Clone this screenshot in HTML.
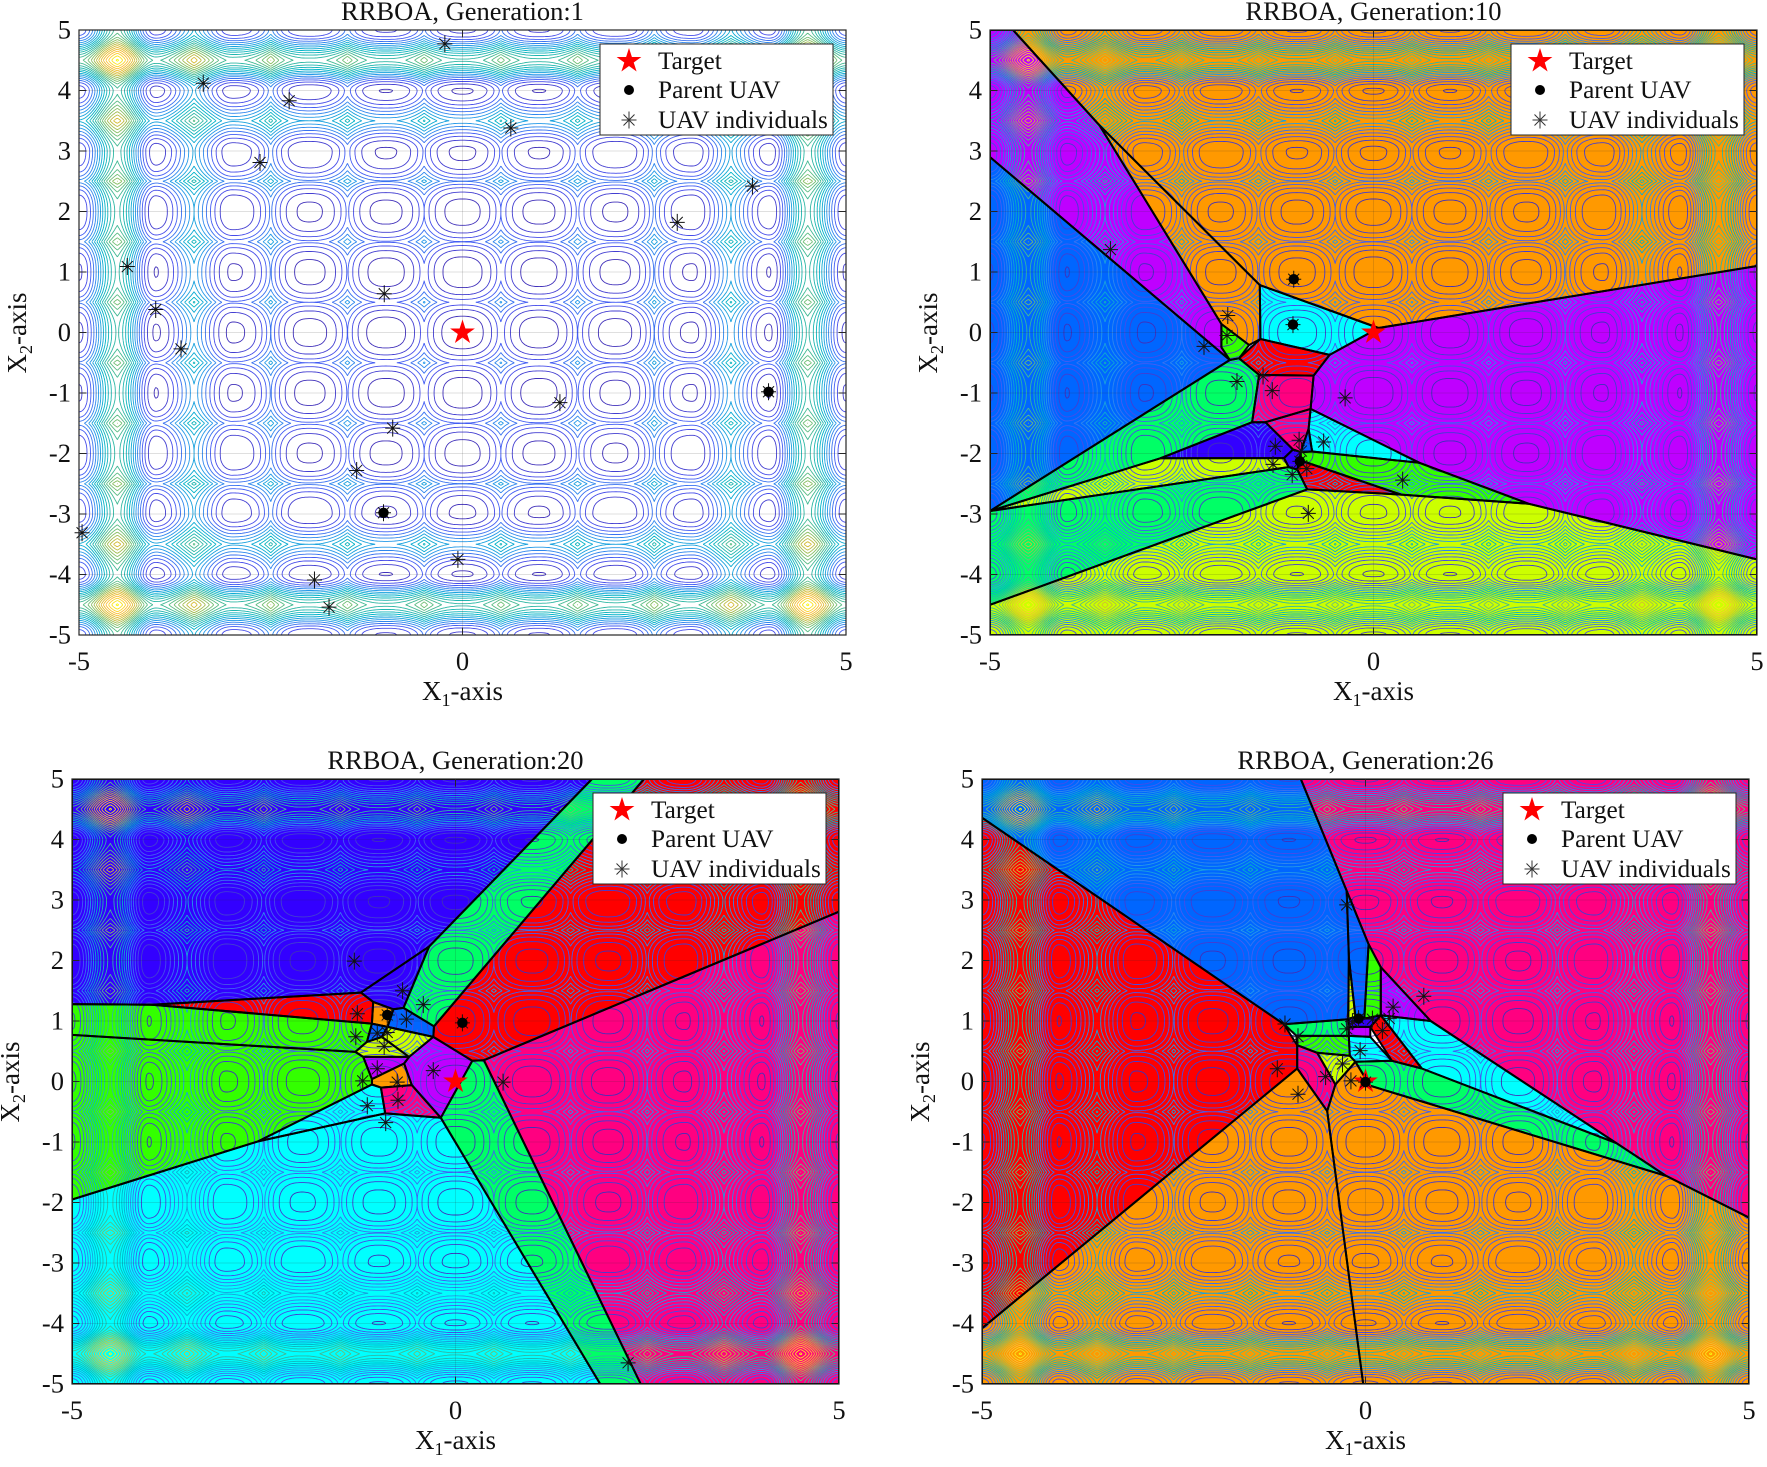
<!DOCTYPE html>
<html lang="en">
<head>
<meta charset="utf-8">
<title>RRBOA Generations</title>
<style>
html,body{margin:0;padding:0;background:#fff;width:1767px;height:1467px;overflow:hidden}
svg#chart{display:block;filter:blur(0.35px)}
text{font-family:"Liberation Serif",serif;fill:#111}
.title{font-size:26.5px;text-anchor:middle}
.tick{font-size:26.5px}
.axis-label{font-size:27px;text-anchor:middle}
.legend-text{font-size:25.3px}
</style>
</head>
<body>
<svg id="chart" xmlns="http://www.w3.org/2000/svg" width="1767" height="1467" viewBox="0 0 1767 1467">
<defs>
  <clipPath id="axes-clip"><rect x="0" y="0" width="767" height="605"></rect></clipPath>
  <g id="contour-set"></g>
</defs>

<g id="panel-1" transform="translate(79,30)">
  <g class="plot"></g>
  <text class="title" x="383.5" y="-10">RRBOA, Generation:1</text>
  <text class="axis-label" x="383.5" y="670">X<tspan font-size="18" dy="6">1</tspan><tspan dy="-6">-axis</tspan></text>
  <text class="axis-label" transform="translate(-53,303) rotate(-90)">X<tspan font-size="18" dy="6">2</tspan><tspan dy="-6">-axis</tspan></text>
  <g class="legend">
    <rect x="521" y="14" width="233" height="91" fill="#fff" stroke="#262626" stroke-width="1"></rect>
    <text class="legend-text" x="579" y="39">Target</text>
    <text class="legend-text" x="579" y="68">Parent UAV</text>
    <text class="legend-text" x="579" y="98">UAV individuals</text>
  </g>
</g>

<g id="panel-2" transform="translate(990,30)">
  <g class="plot"></g>
  <text class="title" x="383.5" y="-10">RRBOA, Generation:10</text>
  <text class="axis-label" x="383.5" y="670">X<tspan font-size="18" dy="6">1</tspan><tspan dy="-6">-axis</tspan></text>
  <text class="axis-label" transform="translate(-53,303) rotate(-90)">X<tspan font-size="18" dy="6">2</tspan><tspan dy="-6">-axis</tspan></text>
  <g class="legend">
    <rect x="521" y="14" width="233" height="91" fill="#fff" stroke="#262626" stroke-width="1"></rect>
    <text class="legend-text" x="579" y="39">Target</text>
    <text class="legend-text" x="579" y="68">Parent UAV</text>
    <text class="legend-text" x="579" y="98">UAV individuals</text>
  </g>
</g>

<g id="panel-3" transform="translate(72,779)">
  <g class="plot"></g>
  <text class="title" x="383.5" y="-10">RRBOA, Generation:20</text>
  <text class="axis-label" x="383.5" y="670">X<tspan font-size="18" dy="6">1</tspan><tspan dy="-6">-axis</tspan></text>
  <text class="axis-label" transform="translate(-53,303) rotate(-90)">X<tspan font-size="18" dy="6">2</tspan><tspan dy="-6">-axis</tspan></text>
  <g class="legend">
    <rect x="521" y="14" width="233" height="91" fill="#fff" stroke="#262626" stroke-width="1"></rect>
    <text class="legend-text" x="579" y="39">Target</text>
    <text class="legend-text" x="579" y="68">Parent UAV</text>
    <text class="legend-text" x="579" y="98">UAV individuals</text>
  </g>
</g>

<g id="panel-4" transform="translate(982,779)">
  <g class="plot"></g>
  <text class="title" x="383.5" y="-10">RRBOA, Generation:26</text>
  <text class="axis-label" x="383.5" y="670">X<tspan font-size="18" dy="6">1</tspan><tspan dy="-6">-axis</tspan></text>
  <text class="axis-label" transform="translate(-53,303) rotate(-90)">X<tspan font-size="18" dy="6">2</tspan><tspan dy="-6">-axis</tspan></text>
  <g class="legend">
    <rect x="521" y="14" width="233" height="91" fill="#fff" stroke="#262626" stroke-width="1"></rect>
    <text class="legend-text" x="579" y="39">Target</text>
    <text class="legend-text" x="579" y="68">Parent UAV</text>
    <text class="legend-text" x="579" y="98">UAV individuals</text>
  </g>
</g>
</svg>

<script>
// ---------- axis values ----------
const xTickValues = [-5, 0, 5];
const xTickLabels = ["-5", "0", "5"];
const yTickValues = [-5, -4, -3, -2, -1, 0, 1, 2, 3, 4, 5];
const yTickLabels = ["-5", "-4", "-3", "-2", "-1", "0", "1", "2", "3", "4", "5"];

// ---------- objective landscape (per-axis profile) ----------
const valleyHeights = [0, 0.1, 0.25, 0.5, 0.6, 1.5];       // at |x| = 0,1,2,3,4,5
const ridgeHeights = [3.5, 3.8, 4.8, 7.5, 13];             // at |x| = .5,1.5,2.5,3.5,4.5
const ridgeSharpness = [1, 1, 1, 0.5, 0.2];                // 1 = pointed ridge, 0 = rounded ridge
const contourLevels = [0.75, 1.75, 2.75, 3.75, 4.75, 5.75, 6.75, 7.75, 8.75, 9.75, 10.75, 11.75, 12.75, 13.75, 14.75, 15.75,
  16.75, 17.75, 18.75, 19.75, 20.75, 21.75, 22.75, 23.75, 24.75, 25.75];
const colorTop = 26;

// ---------- targets ----------
const targetPoint = [0, 0];

// ---------- generation 1 ----------
const gen1Individuals = [[-0.23,4.77],[-3.38,4.12],[-2.26,3.83],[0.63,3.38],[-2.64,2.81],[3.78,2.42],[2.8,1.82],[-4.37,1.09],
  [-1.02,0.64],[-4.0,0.38],[-3.67,-0.27],[1.27,-1.16],[-0.91,-1.58],[-1.38,-2.28],[-4.96,-3.31],[-0.06,-3.75],[-1.93,-4.09],[-1.74,-4.54]];
const gen1Parents = [[3.99,-0.98],[-1.03,-2.98]];
const gen1Cells = [];
const gen1CellColors = [];

// ---------- generation 10 ----------
const gen10Individuals = [[-3.43,1.37],[-1.9,0.28],[-1.91,-0.05],[-2.21,-0.23],[-1.78,-0.81],[-1.44,-0.72],[-1.32,-0.96],[-0.37,-1.08],
  [-1.28,-1.88],[-0.97,-1.78],[-0.65,-1.81],[-1.31,-2.18],[-1.06,-2.35],[-0.87,-2.25],[-0.94,-1.96],[0.38,-2.44],[-0.85,-2.99]];
const gen10Parents = [[-1.04,0.88],[-1.05,0.13],[-0.96,-2.13]];
const gen10Cells = [
  [[-4.7,5],[5,5],[5,1.1],[0.065,0.074],[-1.483,0.784],[-3.57,3.42]],
  [[-5,5],[-4.7,5],[-3.57,3.42],[-1.983,0.14],[-1.983,-0.245],[-1.874,-0.454],[-5,2.9]],
  [[-3.57,3.42],[-1.483,0.784],[-1.475,-0.107],[-1.622,-0.206],[-1.983,0.14]],
  [[-1.983,0.14],[-1.622,-0.206],[-1.752,-0.426],[-1.874,-0.454],[-1.983,-0.245]],
  [[-5,2.9],[-1.874,-0.454],[-5,-2.95]],
  [[-1.874,-0.454],[-1.752,-0.426],[-1.492,-0.7],[-1.583,-1.482],[-2.78,-2.08],[-5,-2.95]],
  [[-1.483,0.784],[0.065,0.074],[-0.573,-0.371],[-1.475,-0.107]],
  [[-1.475,-0.107],[-0.573,-0.371],[-0.781,-0.713],[-1.492,-0.7],[-1.752,-0.426]],
  [[-1.492,-0.7],[-0.781,-0.713],[-0.82,-1.262],[-1.41,-1.482],[-1.583,-1.482]],
  [[-2.78,-2.08],[-1.583,-1.482],[-1.41,-1.482],[-1.05,-1.934],[-1.167,-2.076]],
  [[-1.41,-1.482],[-0.82,-1.262],[-0.846,-1.592],[-0.95,-1.977],[-1.05,-1.934]],
  [[-0.846,-1.592],[-0.8,-1.967],[-0.95,-1.977]],
  [[-1.05,-1.934],[-0.95,-1.977],[-0.994,-2.264],[-1.106,-2.224],[-1.167,-2.076]],
  [[-0.82,-1.262],[0.598,-2.153],[-0.8,-1.967],[-0.846,-1.592]],
  [[0.065,0.074],[5,1.1],[5,-3.75],[2.02,-2.83],[0.598,-2.153],[-0.82,-1.262],[-0.781,-0.713],[-0.573,-0.371]],
  [[-0.95,-1.977],[-0.8,-1.967],[0.598,-2.153],[2.02,-2.83],[0.36,-2.68],[-0.95,-2.115]],
  [[-0.95,-2.115],[0.36,-2.68],[-0.864,-2.594],[-0.994,-2.264]],
  [[-0.864,-2.594],[0.36,-2.68],[2.02,-2.83],[5,-3.75],[5,-5],[-5,-5],[-5,-4.5]],
  [[-5,-2.95],[-1.106,-2.224],[-0.994,-2.264],[-0.864,-2.594],[-5,-4.5]],
  [[-5,-2.95],[-2.78,-2.08],[-1.167,-2.076],[-1.106,-2.224]]
];
const gen10CellColors = ["#FF9900","#BF00FF","#FF9900","#33FF00","#0066FF","#00FF66","#00FFFF","#FF0000","#FF0080","#3300FF",
  "#FF0080","#0066FF","#3300FF","#00FFFF","#BF00FF","#33FF00","#FF0000","#CCFF00","#00FF66","#CCFF00"];

// ---------- generation 20 ----------
const gen20Individuals = [[-1.32,1.99],[-0.69,1.5],[-0.42,1.27],[-1.28,1.12],[-0.64,1.03],[-1.30,0.74],[-1.02,0.8],[-0.89,0.81],[-0.93,0.58],
  [-1.02,0.21],[-1.21,0.01],[-0.76,-0.01],[-0.29,0.18],[-1.15,-0.4],[-0.75,-0.31],[-0.91,-0.68],[0.62,-0.01],[2.25,-4.65]];
const gen20Parents = [[-0.89,1.10],[0.09,0.97]];
const gen20Cells = [
  [[-5,5],[1.78,5],[-0.344,2.23],[-1.233,1.469],[-3.96,1.27],[-5,1.28]],
  [[-1.233,1.469],[-0.344,2.23],[-0.678,1.216],[-0.809,1.193],[-1.073,1.315]],
  [[-3.96,1.27],[-1.233,1.469],[-1.073,1.315],[-1.09,0.957]],
  [[-1.073,1.315],[-0.809,1.193],[-0.887,0.903],[-1.09,0.957]],
  [[-0.809,1.193],[-0.678,1.216],[-0.28,0.913],[-0.289,0.737],[-0.887,0.903]],
  [[-1.09,0.957],[-0.887,0.903],[-0.96,0.737],[-1.155,0.655]],
  [[-1.155,0.655],[-0.96,0.737],[-0.605,0.407],[-1.203,0.407],[-1.307,0.49]],
  [[-0.96,0.737],[-0.887,0.903],[-0.289,0.737],[-0.605,0.407]],
  [[-5,1.28],[-3.96,1.27],[-1.09,0.957],[-1.155,0.655],[-1.307,0.49],[-5,0.77]],
  [[-5,0.77],[-1.307,0.49],[-1.203,0.407],[-1.09,0.04],[-1.09,-0.05],[-2.575,-0.99],[-5,-1.95]],
  [[-1.203,0.407],[-0.605,0.407],[-0.67,0.297],[-1.09,0.04]],
  [[-1.09,0.04],[-0.67,0.297],[-0.57,-0.06],[-0.973,-0.10],[-1.09,-0.05]],
  [[-0.973,-0.10],[-0.57,-0.06],[-0.192,-0.6],[-0.917,-0.528]],
  [[-0.289,0.737],[0.219,0.342],[-0.192,-0.6],[-0.57,-0.06],[-0.67,0.297],[-0.605,0.407]],
  [[-1.09,-0.05],[-0.973,-0.10],[-0.917,-0.528],[-2.575,-0.99]],
  [[-5,-1.95],[-2.575,-0.99],[-0.917,-0.528],[-0.192,-0.6],[1.887,-5],[-5,-5]],
  [[0.219,0.342],[0.37,0.352],[2.414,-5],[1.887,-5],[-0.192,-0.6]],
  [[0.37,0.352],[5,2.807],[5,-5],[2.414,-5]],
  [[-0.28,0.913],[-0.289,0.737],[0.219,0.342],[0.37,0.352],[5,2.807],[5,5],[2.458,5]],
  [[1.78,5],[2.458,5],[-0.28,0.913],[-0.678,1.216],[-0.344,2.23]]
];
const gen20CellColors = ["#3300FF","#3300FF","#FF0000","#FF9900","#0066FF","#0066FF","#CCFF00","#CCFF00","#33FF00","#33FF00",
  "#BF00FF","#FF9900","#FF0080","#BF00FF","#00FFFF","#00FFFF","#00FF66","#FF0080","#FF0000","#00FF66"];

// ---------- generation 26 ----------
const gen26Individuals = [[-0.245,2.92],[0.76,1.41],[0.36,1.23],[-1.05,0.95],[-0.88,0.74],[0.22,0.84],[-0.245,0.87],[-0.17,0.99],[0.09,1.03],
  [0.31,1.04],[-0.07,0.51],[-0.3,0.29],[-0.52,0.08],[-0.19,0.01],[-1.15,0.21],[-0.88,-0.21]];
const gen26Parents = [[-0.09,1.04],[0,-0.01]];
const gen26Cells = [
  [[-5,4.36],[-1.062,0.946],[-0.89,0.6],[-0.89,0.215],[-5,-4.08]],
  [[-5,5],[-0.844,5],[-0.245,3.15],[-0.216,2.04],[-0.225,1.03],[-1.062,0.946],[-5,4.36]],
  [[-0.245,3.15],[0.04,2.27],[-0.015,1.04],[-0.132,1.07],[-0.216,2.04]],
  [[-0.216,2.04],[-0.132,1.07],[-0.225,1.03]],
  [[0.04,2.27],[0.2,1.89],[0.2,1.094],[-0.015,1.04]],
  [[0.2,1.89],[0.85,1.0],[0.2,1.094]],
  [[-0.844,5],[5,5],[5,-2.25],[3.92,-1.56],[3.27,-1.018],[0.85,1.0],[0.2,1.89],[0.04,2.27],[-0.245,3.15]],
  [[0.2,1.094],[0.85,1.0],[3.27,-1.018],[0.734,0.215]],
  [[0.2,1.094],[0.734,0.215],[0.344,0.342],[0.062,0.903]],
  [[-0.218,0.754],[0.062,0.737],[0.344,0.342],[-0.132,0.325],[-0.205,0.424]],
  [[-0.132,0.325],[0.344,0.342],[0.734,0.215],[3.27,-1.018],[3.92,-1.56],[0.06,-0.07]],
  [[-0.63,0.474],[-0.205,0.424],[-0.132,0.325],[-0.392,-0.05]],
  [[-0.9,0.754],[-0.218,0.754],[-0.205,0.424],[-0.63,0.474],[-0.89,0.6]],
  [[-1.062,0.946],[-0.225,1.03],[-0.218,0.754],[-0.9,0.754]],
  [[-0.218,0.903],[0.062,0.903],[0.062,0.737],[-0.218,0.754]],
  [[-0.218,1.04],[-0.132,1.07],[-0.015,1.04],[0.2,1.094],[0.062,0.903],[-0.218,0.903]],
  [[-0.89,0.6],[-0.63,0.474],[-0.392,-0.05],[-0.5,-0.49],[-0.89,0.215]],
  [[-5,-5],[-0.03,-5],[-0.5,-0.49],[-0.89,0.215],[-5,-4.08]],
  [[-0.03,-5],[5,-5],[5,-2.25],[3.92,-1.56],[0.06,-0.07],[-0.132,0.325],[-0.392,-0.05],[-0.5,-0.49]]
];
const gen26CellColors = ["#FF0000","#0066FF","#0066FF","#CCFF00","#33FF00","#BF00FF","#FF0080","#00FFFF","#FF0000","#00FFFF","#00FF66","#CCFF00",
  "#33FF00","#00FF66","#BF00FF","#3300FF","#FF0080","#FF9900","#FF9900"];

// ---------- rendering ----------
const SVGNS = "http://www.w3.org/2000/svg";
const W = 767, H = 605;
const sx = v => (v + 5) / 10 * W;
const sy = v => (5 - v) / 10 * H;
const svgEl = t => document.createElementNS(SVGNS, t);

function axisProfile(v) {
  const a = Math.abs(v);
  const k = Math.min(Math.floor(a + 0.5), valleyHeights.length - 1);
  const d = a - k;
  const m = valleyHeights[k];
  const idx = d >= 0 ? Math.min(k, ridgeHeights.length - 1) : k - 1;
  const r = ridgeHeights[idx];
  const w = ridgeSharpness[idx];
  const t = 2 * Math.abs(d);
  const shape = w * Math.pow(t, 2.5) + (1 - w) * (1 - Math.cos(Math.PI * t)) / 2;
  return m + (r - m) * shape;
}

const parulaStops = [[.2422,.1504,.6603],[.2810,.3228,.9579],[.1540,.5902,.9218],[.0,.70,.78],[.2,.72,.63],[.48,.75,.42],[.82,.73,.2],[.99,.75,.22],[.976,.984,.055]];
function parula(t) {
  t = Math.max(0, Math.min(1, t)) * (parulaStops.length - 1);
  const i = Math.min(Math.floor(t), parulaStops.length - 2), f = t - i;
  const c = [0, 1, 2].map(j => Math.round(255 * (parulaStops[i][j] * (1 - f) + parulaStops[i + 1][j] * f)));
  return "rgb(" + c.join(",") + ")";
}

function buildContours() {
  const N = 400, step = 10 / N;
  const axisVals = new Float64Array(N + 1);
  for (let i = 0; i <= N; i++) axisVals[i] = axisProfile(-5 + i * step);
  const px = W / N, py = H / N;
  const host = document.getElementById("contour-set");
  const r1 = v => Math.round(v * 10) / 10;
  contourLevels.forEach(level => {
    const parts = [];
    const seg = (a, b) => parts.push("M" + r1(a[0]) + " " + r1(a[1]) + "L" + r1(b[0]) + " " + r1(b[1]));
    for (let j = 0; j < N; j++) {
      const yTop = (N - j) * py, yBot = (N - j - 1) * py;
      for (let i = 0; i < N; i++) {
        const z0 = axisVals[i] + axisVals[j], z1 = axisVals[i + 1] + axisVals[j];
        const z2 = axisVals[i + 1] + axisVals[j + 1], z3 = axisVals[i] + axisVals[j + 1];
        const c = (z0 > level ? 1 : 0) | (z1 > level ? 2 : 0) | (z2 > level ? 4 : 0) | (z3 > level ? 8 : 0);
        if (c === 0 || c === 15) continue;
        const xL = i * px, xR = (i + 1) * px;
        const e0 = () => [xL + (level - z0) / (z1 - z0) * px, yTop];
        const e1 = () => [xR, yTop + (level - z1) / (z2 - z1) * (yBot - yTop)];
        const e2 = () => [xL + (level - z3) / (z2 - z3) * px, yBot];
        const e3 = () => [xL, yTop + (level - z0) / (z3 - z0) * (yBot - yTop)];
        switch (c) {
          case 1: case 14: seg(e0(), e3()); break;
          case 2: case 13: seg(e0(), e1()); break;
          case 3: case 12: seg(e3(), e1()); break;
          case 4: case 11: seg(e1(), e2()); break;
          case 6: case 9: seg(e0(), e2()); break;
          case 7: case 8: seg(e2(), e3()); break;
          case 5: seg(e0(), e3()); seg(e1(), e2()); break;
          case 10: seg(e0(), e1()); seg(e2(), e3()); break;
        }
      }
    }
    const path = svgEl("path");
    
    
    path.setAttribute("d", parts.join(""));
    path.setAttribute("fill", "none");
    path.setAttribute("stroke-width", "0.9");
    path.setAttribute("stroke", parula(level / colorTop));
    host.appendChild(path);
  });
}

function starPoints(cx, cy, R) {
  const pts = [];
  for (let i = 0; i < 10; i++) {
    const r = i % 2 ? R * 0.382 : R;
    const a = -Math.PI / 2 + i * Math.PI / 5;
    pts.push((cx + r * Math.cos(a)).toFixed(1) + "," + (cy + r * Math.sin(a)).toFixed(1));
  }
  return pts.join(" ");
}
function asteriskPath(cx, cy) {
  const h = 7.5, v = 8.5, d = 5.5;
  return "M" + (cx - h) + " " + cy + "H" + (cx + h) +
    "M" + cx + " " + (cy - v) + "V" + (cy + v) +
    "M" + (cx - d) + " " + (cy - d) + "L" + (cx + d) + " " + (cy + d) +
    "M" + (cx - d) + " " + (cy + d) + "L" + (cx + d) + " " + (cy - d);
}

function drawPanel(id, cells, colors, individuals, parents) {
  const panel = document.getElementById(id);
  const plot = panel.querySelector(".plot");
  const clipped = svgEl("g");
  
  
  clipped.setAttribute("clip-path", "url(#axes-clip)");
  plot.appendChild(clipped);

  const bg = svgEl("rect");
  
  
  bg.setAttribute("width", W);
  bg.setAttribute("height", H);
  bg.setAttribute("fill", "#fff");
  clipped.appendChild(bg);

  const toPts = c => c.map(p => sx(p[0]).toFixed(1) + "," + sy(p[1]).toFixed(1)).join(" ");
  cells.forEach((c, i) => {
    const poly = svgEl("polygon");
    
    
    poly.setAttribute("points", toPts(c));
    poly.setAttribute("fill", colors[i]);
    poly.setAttribute("stroke", colors[i]);
    poly.setAttribute("stroke-width", "0.6");
    clipped.appendChild(poly);
  });

  const use = svgEl("use");
  
  
  use.setAttribute("href", "#contour-set");
  clipped.appendChild(use);

  yTickValues.forEach(v => {
    const g = svgEl("line");
    
    
    g.setAttribute("x1", 0); g.setAttribute("x2", W);
    g.setAttribute("y1", sy(v)); g.setAttribute("y2", sy(v));
    g.setAttribute("stroke", "rgba(38,38,38,0.15)");
    clipped.appendChild(g);
  });
  xTickValues.forEach(v => {
    const g = svgEl("line");
    
    
    g.setAttribute("y1", 0); g.setAttribute("y2", H);
    g.setAttribute("x1", sx(v)); g.setAttribute("x2", sx(v));
    g.setAttribute("stroke", "rgba(38,38,38,0.15)");
    clipped.appendChild(g);
  });

  cells.forEach(c => {
    const edge = svgEl("polygon");
    
    
    edge.setAttribute("points", toPts(c));
    edge.setAttribute("fill", "none");
    edge.setAttribute("stroke", "#000");
    edge.setAttribute("stroke-width", "2");
    edge.setAttribute("stroke-linejoin", "round");
    clipped.appendChild(edge);
  });

  const star = svgEl("polygon");
  
  
  star.setAttribute("points", starPoints(sx(targetPoint[0]), sy(targetPoint[1]), 13));
  star.setAttribute("fill", "#f00");
  plot.appendChild(star);

  individuals.forEach(p => {
    const m = svgEl("path");
    
    
    m.setAttribute("d", asteriskPath(sx(p[0]), sy(p[1])));
    m.setAttribute("fill", "none");
    m.setAttribute("stroke", "#111");
    m.setAttribute("stroke-width", "1");
    plot.appendChild(m);
  });
  parents.forEach(p => {
    const a = svgEl("path");
    
    
    a.setAttribute("d", asteriskPath(sx(p[0]), sy(p[1])));
    a.setAttribute("fill", "none");
    a.setAttribute("stroke", "#111");
    a.setAttribute("stroke-width", "1");
    plot.appendChild(a);
    const dot = svgEl("circle");
    
    
    dot.setAttribute("cx", sx(p[0]));
    dot.setAttribute("cy", sy(p[1]));
    dot.setAttribute("r", "5.2");
    dot.setAttribute("fill", "#000");
    plot.appendChild(dot);
  });

  const box = svgEl("rect");
  
  
  box.setAttribute("width", W);
  box.setAttribute("height", H);
  box.setAttribute("fill", "none");
  box.setAttribute("stroke", "#262626");
  box.setAttribute("stroke-width", "1.2");
  plot.appendChild(box);

  const TL = 7.5;
  xTickValues.forEach((v, i) => {
    const t = svgEl("path");
    
    
    t.setAttribute("d", "M" + sx(v) + " " + H + "v" + (-TL) + "M" + sx(v) + " 0v" + TL);
    t.setAttribute("stroke", "#262626");
    t.setAttribute("stroke-width", "1");
    plot.appendChild(t);
    const l = svgEl("text");
    
    
    l.setAttribute("class", "tick");
    l.setAttribute("x", sx(v));
    l.setAttribute("y", H + 35);
    l.setAttribute("text-anchor", "middle");
    l.textContent = xTickLabels[i];
    plot.appendChild(l);
  });
  yTickValues.forEach((v, i) => {
    const t = svgEl("path");
    
    
    t.setAttribute("d", "M0 " + sy(v) + "h" + TL + "M" + W + " " + sy(v) + "h" + (-TL));
    t.setAttribute("stroke", "#262626");
    t.setAttribute("stroke-width", "1");
    plot.appendChild(t);
    const l = svgEl("text");
    
    
    l.setAttribute("class", "tick");
    l.setAttribute("x", -8);
    l.setAttribute("y", sy(v) + 8.5);
    l.setAttribute("text-anchor", "end");
    l.textContent = yTickLabels[i];
    plot.appendChild(l);
  });

  // legend icons
  const legend = panel.querySelector(".legend");
  const ls = svgEl("polygon");
  
  
  ls.setAttribute("points", starPoints(550, 31, 13));
  ls.setAttribute("fill", "#f00");
  legend.appendChild(ls);
  const ld = svgEl("circle");
  
  
  ld.setAttribute("cx", 550);
  ld.setAttribute("cy", 60);
  ld.setAttribute("r", 5);
  ld.setAttribute("fill", "#000");
  legend.appendChild(ld);
  const la = svgEl("path");
  
  
  la.setAttribute("d", asteriskPath(550, 90));
  la.setAttribute("fill", "none");
  la.setAttribute("stroke", "#333");
  la.setAttribute("stroke-width", "1");
  legend.appendChild(la);
  panel.appendChild(legend);
}

buildContours();
drawPanel("panel-1", gen1Cells, gen1CellColors, gen1Individuals, gen1Parents);
drawPanel("panel-2", gen10Cells, gen10CellColors, gen10Individuals, gen10Parents);
drawPanel("panel-3", gen20Cells, gen20CellColors, gen20Individuals, gen20Parents);
drawPanel("panel-4", gen26Cells, gen26CellColors, gen26Individuals, gen26Parents);
</script>
</body>
</html>
